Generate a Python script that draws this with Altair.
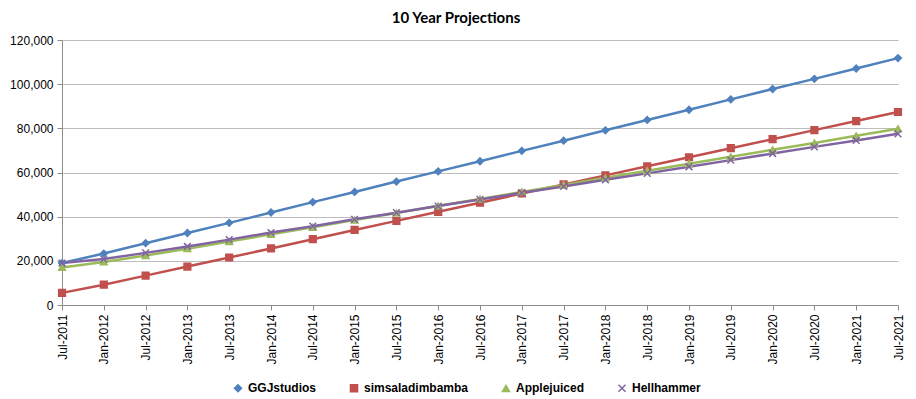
import altair as alt
import pandas as pd

dates = ["Jul-2011", "Jan-2012", "Jul-2012", "Jan-2013", "Jul-2013", "Jan-2014", "Jul-2014",
         "Jan-2015", "Jul-2015", "Jan-2016", "Jul-2016", "Jan-2017", "Jul-2017", "Jan-2018",
         "Jul-2018", "Jan-2019", "Jul-2019", "Jan-2020", "Jul-2020", "Jan-2021", "Jul-2021"]

series_names = ["GGJstudios", "simsaladimbamba", "Applejuiced", "Hellhammer"]

ggjstudios = [19000, 23300, 28000, 32600, 37200, 41900, 46600, 51200, 55900, 60500, 65100,
              69800, 74400, 79100, 83800, 88400, 93100, 97800, 102400, 107100, 111800]
simsaladimbamba = [5500, 9200, 13300, 17400, 21500, 25600, 29800, 34000, 38100, 42200, 46300,
                   50500, 54600, 58700, 62800, 66900, 71000, 75100, 79200, 83300, 87400]
applejuiced = [17000, 19500, 22400, 25500, 28700, 32000, 35200, 38500, 41700, 44900, 48000,
               51200, 54400, 57600, 60800, 64000, 67100, 70300, 73400, 76600, 79800]
hellhammer = [19000, 20800, 23600, 26500, 29600, 32800, 35700, 38800, 41800, 44800, 47800,
              50800, 53700, 56700, 59600, 62600, 65600, 68600, 71600, 74500, 77500]

colors = ["#4F81BD", "#C0504D", "#9BBB59", "#8064A2"]
shapes = ["diamond", "square", "triangle-up", "M-1,-1L1,1M-1,1L1,-1"]

rows = []
for name, vals in zip(series_names, [ggjstudios, simsaladimbamba, applejuiced, hellhammer]):
    for d, v in zip(dates, vals):
        rows.append({"date": d, "series": name, "value": v})
df = pd.DataFrame(rows)

FONT = "Liberation Sans"

xenc = alt.X("date:O", sort=dates, title=None,
             scale=alt.Scale(padding=0),
             axis=alt.Axis(labelAngle=-90, labelFontSize=12, labelFont=FONT,
                           labelColor="#000000", domainColor="#8c8c8c", tickColor="#8c8c8c",
                           tickSize=5, labelPadding=4, grid=False))
yenc = alt.Y("value:Q", title=None,
             scale=alt.Scale(domain=[0, 120000]),
             axis=alt.Axis(values=list(range(0, 120001, 20000)), format=",d",
                           labelFontSize=12, labelFont=FONT, labelColor="#000000",
                           domainColor="#8c8c8c", tickColor="#8c8c8c", tickSize=5,
                           gridColor="#bdbdbd", gridWidth=1, labelPadding=4))
color = alt.Color("series:N", sort=series_names, title=None,
                  scale=alt.Scale(domain=series_names, range=colors),
                  legend=alt.Legend(orient="none", legendX=170, legendY=342,
                                    direction="horizontal"))
stroke = alt.Stroke("series:N", sort=series_names, title=None,
                    scale=alt.Scale(domain=series_names, range=colors),
                    legend=alt.Legend(orient="none", legendX=170, legendY=342,
                                      direction="horizontal"))
shape = alt.Shape("series:N", sort=series_names, title=None,
                  scale=alt.Scale(domain=series_names, range=shapes),
                  legend=alt.Legend(orient="none", legendX=170, legendY=342,
                                    direction="horizontal"))

lines = alt.Chart(df).mark_line(strokeWidth=2.5).encode(
    x=xenc, y=yenc, color=color)

points = alt.Chart(df).mark_point(filled=True, size=45, strokeWidth=1.5, opacity=1).encode(
    x=xenc, y=yenc, color=color, shape=shape, stroke=stroke)

chart = alt.layer(lines, points).properties(
    width=836, height=265,
    title=alt.TitleParams("10 Year Projections", font="Lato", fontSize=15, fontWeight="bold",
                          color="#000000", anchor="middle", dx=-24, offset=8),
    autosize=alt.AutoSizeParams(type="none"),
    padding={"left": 54, "top": 32, "right": 10, "bottom": 90},
).configure_view(stroke=None).configure_legend(
    labelFontSize=12, labelFont=FONT,
    labelFontWeight="bold", labelColor="#000000", columnPadding=30, symbolSize=50,
    symbolStrokeWidth=1.5, labelLimit=300
)

chart.save("out.html", embed_options={"renderer": "svg", "actions": False})
